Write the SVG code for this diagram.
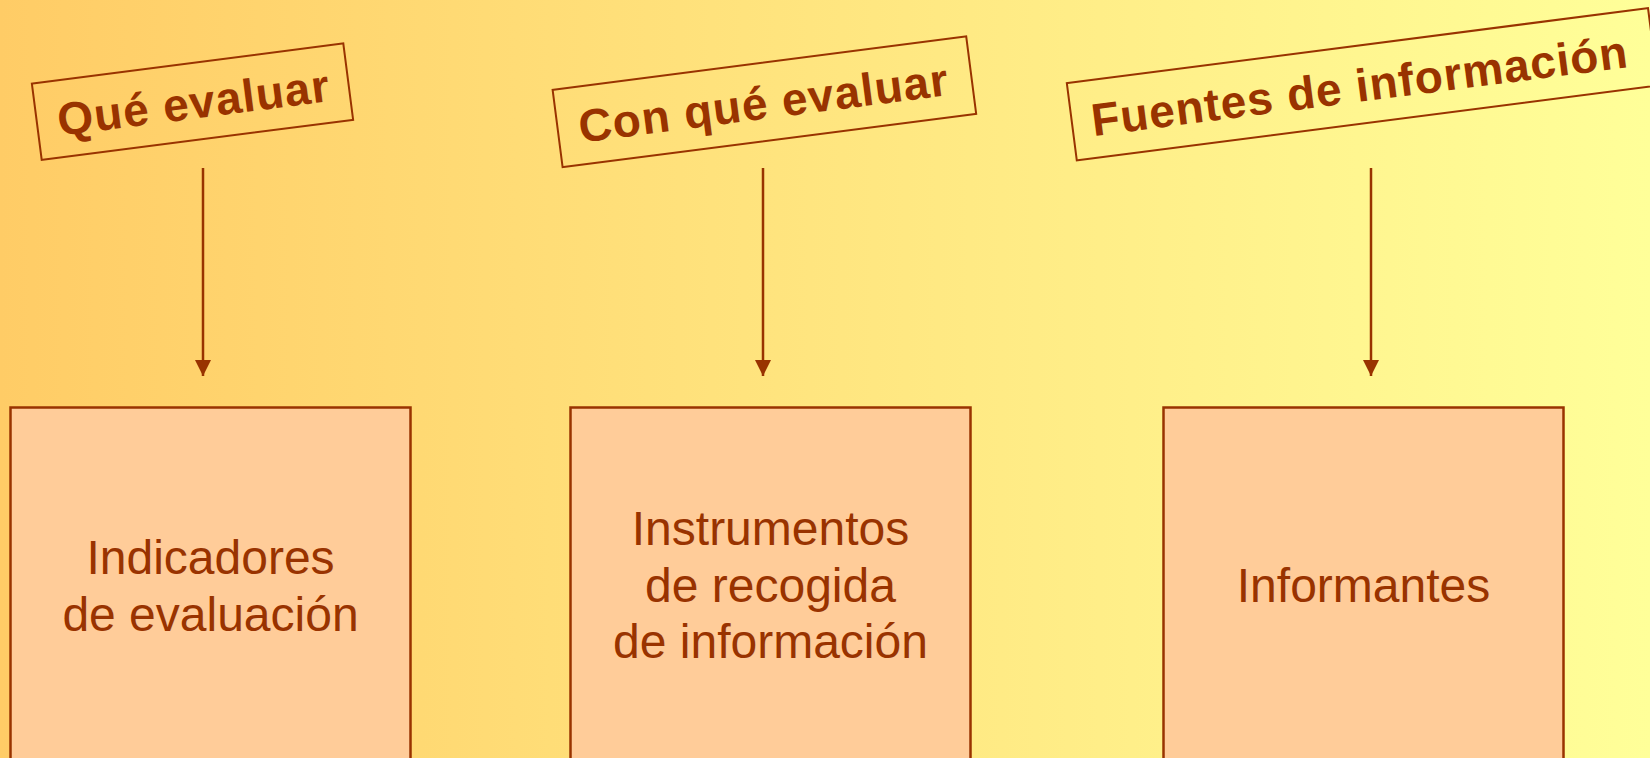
<svg xmlns="http://www.w3.org/2000/svg" width="1650" height="758" viewBox="0 0 1650 758">
<defs>
<linearGradient id="bg" x1="0" y1="0" x2="1" y2="0">
<stop offset="0" stop-color="#FFCC66"/>
<stop offset="1" stop-color="#FFFF99"/>
</linearGradient>
<marker id="arr" markerWidth="16" markerHeight="16" refX="16" refY="8" orient="auto" markerUnits="userSpaceOnUse" viewBox="0 0 16 16">
<path d="M0,0 L16,8 L0,16 Z" fill="#993300"/>
</marker>
<style>
.lbl{fill:none;stroke:#993300;stroke-width:2}
.lt{font-family:"Liberation Sans",Arial,sans-serif;font-weight:bold;font-size:46px;fill:#993300;text-anchor:middle;letter-spacing:1px}
.box{fill:#FFCC99;stroke:#993300;stroke-width:2.5}
.bt{font-family:"Liberation Sans",Arial,sans-serif;font-size:48px;fill:#993300;text-anchor:middle}
.con{stroke:#993300;stroke-width:2.5;fill:none}
</style>
</defs>
<rect width="1650" height="758" fill="url(#bg)"/>
<g id="label1" transform="translate(192.5,101.7) rotate(-7.35)">
<rect class="lbl" x="-157" y="-38.5" width="314" height="77"/>
<text class="lt" x="1" y="17">Qué evaluar</text>
</g>
<g id="label2" transform="translate(764.4,101.8) rotate(-7.35)">
<rect class="lbl" x="-208.5" y="-39" width="417" height="78"/>
<text class="lt" x="-1" y="17">Con qué evaluar</text>
</g>
<g id="label3" transform="translate(1362.4,84.3) rotate(-7.35)">
<rect class="lbl" x="-293" y="-39" width="586" height="78"/>
<text class="lt" x="-3" y="17">Fuentes de información</text>
</g>
<g id="connectors">
<line class="con" x1="203" y1="168" x2="203" y2="376" marker-end="url(#arr)"/>
<line class="con" x1="763" y1="168" x2="763" y2="376" marker-end="url(#arr)"/>
<line class="con" x1="1371" y1="168" x2="1371" y2="376" marker-end="url(#arr)"/>
</g>
<g id="node1">
<rect class="box" x="10.5" y="407.5" width="400" height="370"/>
<text class="bt" x="210.5" y="574">Indicadores</text>
<text class="bt" x="210.5" y="631">de evaluación</text>
</g>
<g id="node2">
<rect class="box" x="570.5" y="407.5" width="400" height="370"/>
<text class="bt" x="770.5" y="545">Instrumentos</text>
<text class="bt" x="770.5" y="602">de recogida</text>
<text class="bt" x="770.5" y="658">de información</text>
</g>
<g id="node3">
<rect class="box" x="1163.5" y="407.5" width="400" height="370"/>
<text class="bt" x="1363.5" y="602">Informantes</text>
</g>
</svg>
